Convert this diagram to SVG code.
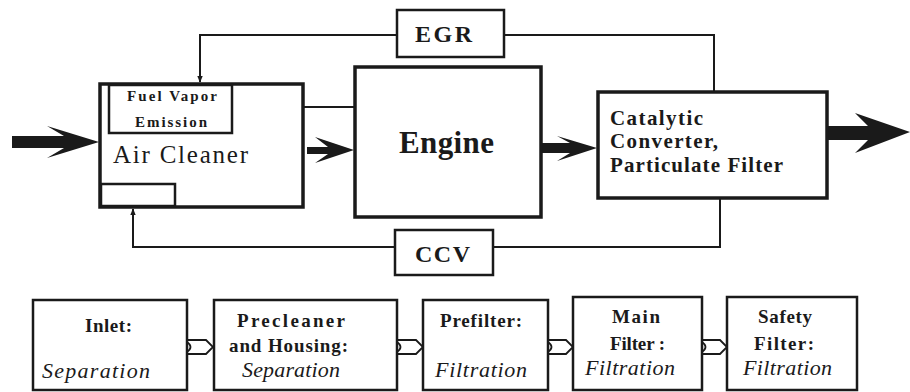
<svg xmlns="http://www.w3.org/2000/svg" width="910" height="392" viewBox="0 0 910 392">
<defs>
<style>
.big{fill:#fff;stroke:#1a1a1a;stroke-width:3.5}
.box{fill:#fff;stroke:#1a1a1a;stroke-width:2.5}
.ln{fill:none;stroke:#1a1a1a;stroke-width:2}
.fat{fill:#1a1a1a;stroke:none}
.hollow{fill:#fff;stroke:#1a1a1a;stroke-width:1.8}
text{font-family:"Liberation Serif","Times New Roman",serif;fill:#1a1a1a}
.b{font-weight:bold}
.i{font-style:italic}
</style>
<marker id="ah" viewBox="0 0 10 10" refX="9" refY="5" markerWidth="7" markerHeight="7" markerUnits="userSpaceOnUse" orient="auto">
<path d="M0,1 L10,5 L0,9 Z" fill="#1a1a1a"/>
</marker>
</defs>
<rect width="910" height="392" fill="#fff"/>

<g id="connectors">
<polyline class="ln" points="714,92 714,35 504,35"/>
<polyline class="ln" points="397,35 200,35 200,82" marker-end="url(#ah)"/>
<line class="ln" x1="355" y1="107" x2="234" y2="107" marker-end="url(#ah)"/>
<polyline class="ln" points="720,198 720,247 493,247"/>
<polyline class="ln" points="395,247 133,247 133,209" marker-end="url(#ah)"/>
<path class="fat" d="M12,136 L64,136 L47,126 L99,142 L47,158 L64,148 L12,148 Z"/>
<path class="fat" d="M307,147 L328,147 L315,137 L354,150 L315,163 L328,154 L307,154 Z"/>
<path class="fat" d="M540,143 L570,143 L557,136 L597,148 L557,161 L570,153 L540,153 Z"/>
<path class="fat" d="M828,126 L868,126 L855,113 L910,132 L855,153 L868,140 L828,140 Z"/>
<path class="hollow" d="M187,340 L206,340 L213,347 L206,354 L187,354 M187,342 Q194,347 187,352"/>
<path class="hollow" d="M397,340 L416,340 L423,347 L416,354 L397,354 M397,342 Q404,347 397,352"/>
<path class="hollow" d="M548,340 L566,340 L573,347 L566,354 L548,354 M548,342 Q555,347 548,352"/>
<path class="hollow" d="M702,340 L720,340 L727,347 L720,354 L702,354 M702,342 Q709,347 702,352"/>
</g>

<g id="air-cleaner">
<rect class="big" x="100" y="84" width="203" height="123"/>
<rect class="box" x="101" y="184" width="74" height="22"/>
<text x="113" y="163" font-size="25" textLength="135" lengthAdjust="spacing">Air Cleaner</text>
</g>
<g id="fuel-vapor">
<rect class="box" x="109" y="85" width="123" height="48"/>
<text class="b" x="127" y="101" font-size="15" textLength="90" lengthAdjust="spacing">Fuel Vapor</text>
<text class="b" x="135" y="127" font-size="15" textLength="72" lengthAdjust="spacing">Emission</text>
</g>
<g id="engine">
<rect class="big" x="355" y="67" width="186" height="150"/>
<text class="b" x="399" y="153" font-size="31" textLength="95" lengthAdjust="spacing">Engine</text>
</g>
<g id="egr">
<rect class="box" x="397" y="10" width="107" height="47"/>
<text class="b" x="415" y="42" font-size="24" textLength="57" lengthAdjust="spacing">EGR</text>
</g>
<g id="catalytic">
<rect class="big" x="598" y="92" width="229" height="106"/>
<text class="b" x="610" y="125" font-size="21" textLength="93" lengthAdjust="spacing">Catalytic</text>
<text class="b" x="610" y="148" font-size="21" textLength="108" lengthAdjust="spacing">Converter,</text>
<text class="b" x="610" y="172" font-size="21" textLength="173" lengthAdjust="spacing">Particulate Filter</text>
</g>
<g id="ccv">
<rect class="box" x="395" y="230" width="98" height="45"/>
<text class="b" x="415" y="262" font-size="24" textLength="55" lengthAdjust="spacing">CCV</text>
</g>

<g id="inlet">
<rect class="box" x="33" y="300" width="154" height="90"/>
<text class="b" x="85" y="332" font-size="19" textLength="47" lengthAdjust="spacing">Inlet:</text>
<text class="i" x="42" y="378" font-size="22" textLength="108" lengthAdjust="spacing">Separation</text>
</g>
<g id="precleaner">
<rect class="box" x="214" y="300" width="183" height="90"/>
<text class="b" x="237" y="327" font-size="19" textLength="108" lengthAdjust="spacing">Precleaner</text>
<text class="b" x="229" y="352" font-size="19" textLength="119" lengthAdjust="spacing">and Housing:</text>
<text class="i" x="242" y="377" font-size="22" textLength="98" lengthAdjust="spacing">Separation</text>
</g>
<g id="prefilter">
<rect class="box" x="423" y="300" width="125" height="90"/>
<text class="b" x="440" y="327" font-size="19" textLength="82" lengthAdjust="spacing">Prefilter:</text>
<text class="i" x="435" y="377" font-size="22" textLength="92" lengthAdjust="spacing">Filtration</text>
</g>
<g id="main-filter">
<rect class="box" x="573" y="297" width="129" height="93"/>
<text class="b" x="612" y="323" font-size="19" textLength="48" lengthAdjust="spacing">Main</text>
<text class="b" x="610" y="350" font-size="19" textLength="55" lengthAdjust="spacing">Filter :</text>
<text class="i" x="585" y="375" font-size="22" textLength="90" lengthAdjust="spacing">Filtration</text>
</g>
<g id="safety-filter">
<rect class="box" x="727" y="297" width="130" height="93"/>
<text class="b" x="758" y="323" font-size="19" textLength="54" lengthAdjust="spacing">Safety</text>
<text class="b" x="754" y="350" font-size="19" textLength="60" lengthAdjust="spacing">Filter:</text>
<text class="i" x="743" y="375" font-size="22" textLength="89" lengthAdjust="spacing">Filtration</text>
</g>
</svg>
